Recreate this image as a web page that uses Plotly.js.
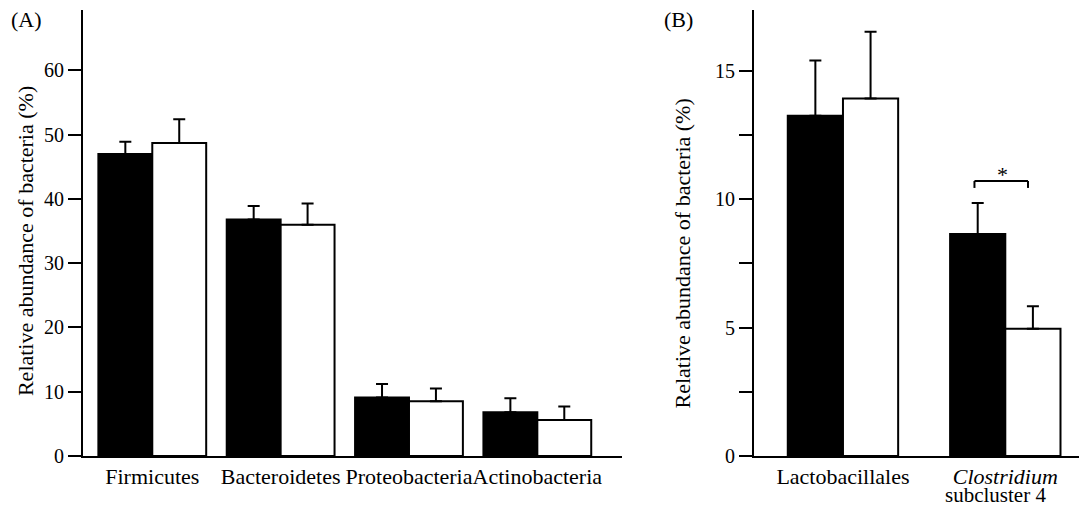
<!DOCTYPE html>
<html>
<head>
<meta charset="utf-8">
<script src="https://cdn.plot.ly/plotly-3.0.1.min.js"></script>
<style>html,body{margin:0;padding:0;background:#fff;}#chart{width:1079px;height:510px;}</style>
</head>
<body>
<div id="chart"></div>
<script>
// Panel A data
const catsA = ['Firmicutes', 'Bacteroidetes', 'Proteobacteria', 'Actinobacteria'];
const blackA = [47.0, 36.8, 9.1, 6.8];
const blackErrA = [1.9, 2.1, 2.1, 2.2];
const whiteA = [48.7, 36.0, 8.5, 5.6];
const whiteErrA = [3.7, 3.3, 2.0, 2.1];
const ticksA = [0, 10, 20, 30, 40, 50, 60];

// Panel B data
const catsB = ['Lactobacillales', 'Clostridium subcluster 4'];
const catLabelsB = ['Lactobacillales', '<i>Clostridium</i>'];
const catSubLabelB = 'subcluster 4';
const blackB = [13.25, 8.65];
const blackErrB = [2.15, 1.2];
const whiteB = [13.92, 4.96];
const whiteErrB = [2.6, 0.87];
const ticksB = [0, 2.5, 5, 7.5, 10, 12.5, 15];
const tickTextB = ['0', '', '5', '', '10', '', '15'];

const FONT = "'Liberation Serif', 'Times New Roman', serif";
const wA = 0.42, wB = 0.34;

function barTrace(x, y, err, fill, w, off, xa, ya) {
  return {
    type: 'bar', x: x, y: y, xaxis: xa, yaxis: ya,
    width: w, offset: off,
    marker: {color: fill, line: {color: '#000', width: 2}},
    error_y: {type: 'data', symmetric: false, array: err, arrayminus: err.map(() => 0),
              color: '#000', thickness: 2, width: 6},
    showlegend: false, hoverinfo: 'skip'
  };
}

const data = [
  barTrace(catsA, blackA, blackErrA, '#000', wA, -wA, 'x', 'y'),
  barTrace(catsA, whiteA, whiteErrA, '#fff', wA, 0, 'x', 'y'),
  barTrace(catsB, blackB, blackErrB, '#000', wB, -wB, 'x2', 'y2'),
  barTrace(catsB, whiteB, whiteErrB, '#fff', wB, 0, 'x2', 'y2')
];

const axX = {
  showline: true, linewidth: 2, linecolor: '#000', ticks: '', tickangle: 0,
  showgrid: false, zeroline: false, automargin: false,
  tickfont: {family: FONT, size: 22, color: '#000'}, fixedrange: true
};
const axY = {
  showline: true, linewidth: 2, linecolor: '#000', ticks: 'outside', ticklen: 13, tickwidth: 2,
  tickcolor: '#000', showgrid: false, zeroline: false, automargin: false,
  tickfont: {family: FONT, size: 20, color: '#000'}, fixedrange: true
};

const layout = {
  width: 1079, height: 510,
  margin: {l: 0, r: 0, t: 10, b: 54},
  paper_bgcolor: '#fff', plot_bgcolor: '#fff',
  font: {family: FONT, color: '#000'},
  barmode: 'group',
  xaxis: Object.assign({}, axX, {domain: [0.0769, 0.5765], range: [-0.54, 3.66], anchor: 'y', type: 'category'}),
  yaxis: Object.assign({}, axY, {domain: [0, 1], range: [0, 69.4], tickvals: ticksA, anchor: 'x'}),
  xaxis2: Object.assign({}, axX, {domain: [0.6988, 1], range: [-0.548, 1.454], anchor: 'y2', type: 'category',
                                  tickvals: catsB, ticktext: catLabelsB}),
  yaxis2: Object.assign({}, axY, {domain: [0, 1], range: [0, 17.37], tickvals: ticksB, ticktext: tickTextB, anchor: 'x2'}),
  shapes: [
    {type: 'line', xref: 'x2', yref: 'y2', x0: 1 - 0.19, x1: 1 + 0.14, y0: 10.71, y1: 10.71, line: {color: '#000', width: 2}},
    {type: 'line', xref: 'x2', yref: 'y2', x0: 1 - 0.19, x1: 1 - 0.19, y0: 10.71, y1: 10.44, line: {color: '#000', width: 2}},
    {type: 'line', xref: 'x2', yref: 'y2', x0: 1 + 0.14, x1: 1 + 0.14, y0: 10.71, y1: 10.44, line: {color: '#000', width: 2}}
  ],
  annotations: [
    {text: 'Relative abundance of bacteria (%)', xref: 'paper', yref: 'paper', x: 0.0232, y: 0.482,
     textangle: -90, showarrow: false, font: {family: FONT, size: 22, color: '#000'}, xanchor: 'center', yanchor: 'middle'},
    {text: 'Relative abundance of bacteria (%)', xref: 'paper', yref: 'paper', x: 0.633, y: 0.454,
     textangle: -90, showarrow: false, font: {family: FONT, size: 22, color: '#000'}, xanchor: 'center', yanchor: 'middle'},
    {text: '(A)', xref: 'paper', yref: 'paper', x: 0.025, y: 0.978, showarrow: false,
     font: {family: FONT, size: 22, color: '#000'}, xanchor: 'center', yanchor: 'middle'},
    {text: '(B)', xref: 'paper', yref: 'paper', x: 0.629, y: 0.978, showarrow: false,
     font: {family: FONT, size: 22, color: '#000'}, xanchor: 'center', yanchor: 'middle'},
    {text: '*', xref: 'x2', yref: 'y2', x: 1 - 0.02, y: 10.95, showarrow: false,
     font: {family: FONT, size: 22, color: '#000'}, xanchor: 'center', yanchor: 'middle'},
    {text: catSubLabelB, xref: 'x2', yref: 'paper', x: 1 - 0.06, y: -0.088, showarrow: false, borderpad: 0,
     font: {family: FONT, size: 21, color: '#000'}, xanchor: 'center', yanchor: 'middle'}
  ]
};

Plotly.newPlot('chart', data, layout, {staticPlot: true, displayModeBar: false});
</script>
</body>
</html>
